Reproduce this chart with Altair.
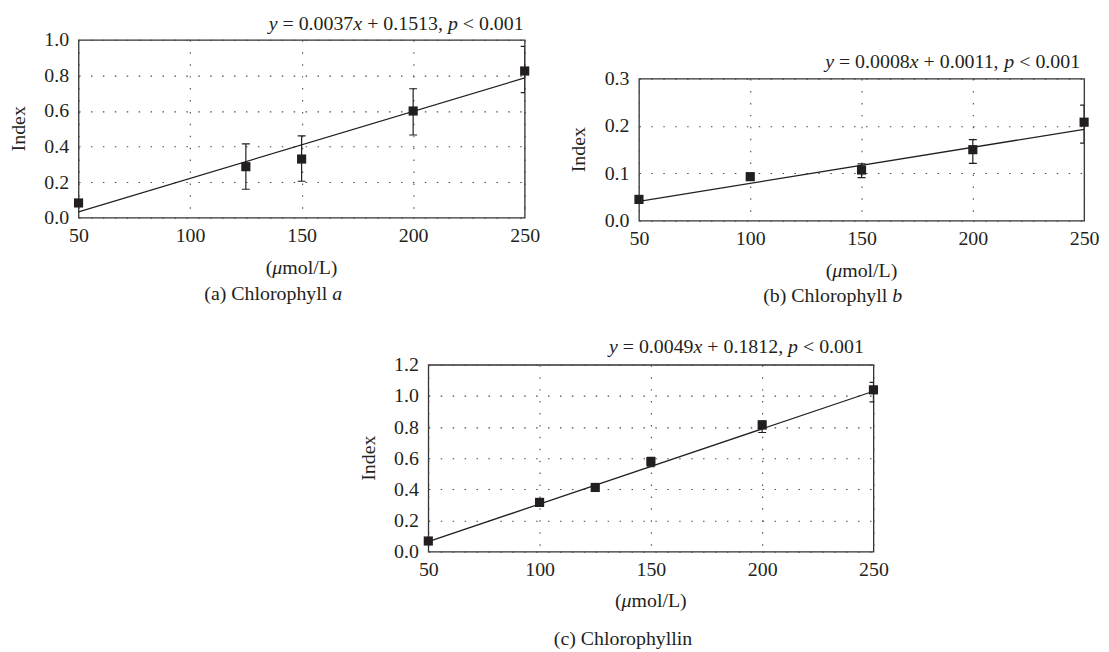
import altair as alt
import pandas as pd

# ---------------- data ----------------
A_X = [50, 125, 150, 200, 250]
A_Y = [0.083, 0.287, 0.330, 0.600, 0.825]
A_LO = [0.078, 0.160, 0.205, 0.465, 0.703]
A_HI = [0.088, 0.415, 0.460, 0.725, 0.963]
A_FIT_X = [50, 250]
A_FIT_Y = [0.033, 0.786]
A_YTICKS = [0.0, 0.2, 0.4, 0.6, 0.8, 1.0]

B_X = [50, 100, 150, 200, 250]
B_Y = [0.045, 0.093, 0.107, 0.150, 0.208]
B_LO = [0.042, 0.090, 0.091, 0.121, 0.164]
B_HI = [0.048, 0.096, 0.120, 0.171, 0.244]
B_FIT_X = [50, 250]
B_FIT_Y = [0.041, 0.193]
B_YTICKS = [0.0, 0.1, 0.2, 0.3]

C_X = [50, 100, 125, 150, 200, 250]
C_Y = [0.068, 0.316, 0.412, 0.578, 0.813, 1.039]
C_LO = [0.060, 0.305, 0.405, 0.545, 0.765, 0.962]
C_HI = [0.075, 0.325, 0.420, 0.605, 0.840, 1.087]
C_FIT_X = [50, 250]
C_FIT_Y = [0.064, 1.030]
C_YTICKS = [0.0, 0.2, 0.4, 0.6, 0.8, 1.0, 1.2]

X_TICKS = [50, 100, 150, 200, 250]

EQ_A = [("y", 1), (" = 0.0037", 0), ("x", 1), (" + 0.1513, ", 0), ("p", 1), (" < 0.001", 0)]
EQ_B = [("y", 1), (" = 0.0008", 0), ("x", 1), (" + 0.0011, ", 0), ("p", 1), (" < 0.001", 0)]
EQ_C = [("y", 1), (" = 0.0049", 0), ("x", 1), (" + 0.1812, ", 0), ("p", 1), (" < 0.001", 0)]
CAP_A = [("(a) Chlorophyll ", 0), ("a", 1)]
CAP_B = [("(b) Chlorophyll ", 0), ("b", 1)]
CAP_C = [("(c) Chlorophyllin", 0)]
UNIT = [("(", 0), ("μ", 1), ("mol/L)", 0)]
Y_TITLE = "Index"

# ---------------- style ----------------
FONT = "Liberation Serif"
FS = 20
INK = "#231f20"

REG = {"0": .5, "1": .5, "2": .5, "3": .5, "4": .5, "5": .5, "6": .5, "7": .5,
       "8": .5, "9": .5, ".": .25, ",": .25, " ": .25, "=": .564, "+": .564,
       "<": .564, "(": .333, ")": .333, "a": .444, "b": .5, "c": .444, "h": .5,
       "i": .278, "l": .278, "m": .778, "n": .5, "o": .5, "p": .5, "r": .333,
       "y": .5, "C": .667, "L": .611, "/": .278, "μ": .5}
ITA = {"a": .5, "b": .5, "p": .5, "x": .444, "y": .444, "μ": .5}


def tw(s, it):
    tab = ITA if it else REG
    return sum(tab.get(ch, REG.get(ch, .5)) for ch in s) * FS


def lay(segs):
    pieces, x = [], 0.0
    for txt, it in segs:
        core = txt.strip(" ")
        if not core:
            x += len(txt) * 0.25 * FS
            continue
        lead = len(txt) - len(txt.lstrip(" "))
        trail = len(txt) - len(txt.rstrip(" "))
        x += lead * 0.25 * FS
        pieces.append((x, core, it))
        x += tw(core, it)
        x += trail * 0.25 * FS
    return pieces, x


ONE = pd.DataFrame({"k": [0]})


def text_layers(segs, anchor_x, y, how):
    pieces, total = lay(segs)
    x0 = anchor_x - total if how == "right" else anchor_x - total / 2
    out = []
    for px, core, it in pieces:
        out.append(
            alt.Chart(ONE).mark_text(
                align="left", baseline="alphabetic", font=FONT, fontSize=FS,
                fontStyle="italic" if it else "normal", color=INK
            ).encode(x=alt.value(x0 + px), y=alt.value(y), text=alt.value(core))
        )
    return out


def bbox_rule(L, T, R, B):
    return alt.Chart(ONE).mark_rule(strokeOpacity=0, strokeWidth=1).encode(
        x=alt.value(L), x2=alt.value(R), y=alt.value(T), y2=alt.value(B))


def spacer(w, h):
    return bbox_rule(0, 0, w, h).properties(
        width=w, height=h, view=alt.ViewBackground(stroke="transparent"))


def panel(xs, ys, lo, hi, fx, fy, yticks, w, h, eq, eq_dx, eq_y, cap, cap_dx, cap_dy,
          unit_dy, bbox):
    df = pd.DataFrame({"x": xs, "y": ys, "lo": lo, "hi": hi})
    fit = pd.DataFrame({"x": fx, "y": fy})
    xsc = alt.Scale(domain=[X_TICKS[0], X_TICKS[-1]], nice=False, zero=False)
    ysc = alt.Scale(domain=[yticks[0], yticks[-1]], nice=False, zero=True)
    xax = alt.Axis(values=X_TICKS, tickCount=len(X_TICKS), format="d", title=None,
                   labelFlush=False, labelOverlap=False, grid=True)
    yax = alt.Axis(values=yticks, tickCount=len(yticks), format=".1f", title=None,
                   labelFlush=False, labelOverlap=False, grid=True)

    line = alt.Chart(fit).mark_line(color=INK, strokeWidth=1.3).encode(
        x=alt.X("x:Q", scale=xsc, axis=xax), y=alt.Y("y:Q", scale=ysc, axis=yax))
    base = alt.Chart(df)
    bars = base.mark_rule(color=INK, strokeWidth=1.2, clip=True).encode(
        x="x:Q", y="lo:Q", y2="hi:Q")
    cap_lo = base.mark_rule(color=INK, strokeWidth=1.2, clip=True, xOffset=-4,
                            x2Offset=4).encode(x="x:Q", x2="x:Q", y="lo:Q")
    cap_hi = base.mark_rule(color=INK, strokeWidth=1.2, clip=True, xOffset=-4,
                            x2Offset=4).encode(x="x:Q", x2="x:Q", y="hi:Q")
    pts = base.mark_point(shape="square", filled=True, size=85, color=INK,
                          opacity=1).encode(x="x:Q", y="y:Q")

    ytitle = alt.Chart(ONE).mark_text(
        font=FONT, fontSize=FS, color=INK, angle=270, align="center", baseline="middle"
    ).encode(x=alt.value(-60), y=alt.value(h / 2), text=alt.value(Y_TITLE))

    layers = [bbox_rule(*bbox), line, bars, cap_lo, cap_hi, pts, ytitle]
    layers += text_layers(eq, w + eq_dx, eq_y, "right")
    layers += text_layers(UNIT, w / 2, h + unit_dy, "center")
    layers += text_layers(cap, w / 2 + cap_dx, h + cap_dy, "center")
    return alt.layer(*layers).properties(width=w, height=h)


pa = panel(A_X, A_Y, A_LO, A_HI, A_FIT_X, A_FIT_Y, A_YTICKS, 449, 179,
           EQ_A, -1, -10, CAP_A, -28.5, 83, 57, (-70, -29, 470, 270))
pb = panel(B_X, B_Y, B_LO, B_HI, B_FIT_X, B_FIT_Y, B_YTICKS, 448, 143,
           EQ_B, -4, -11, CAP_B, -29, 82, 57, (-80, -30, 464, 225))
pc = panel(C_X, C_Y, C_LO, C_HI, C_FIT_X, C_FIT_Y, C_YTICKS, 448, 188,
           EQ_C, -9.6, -12, CAP_C, -28, 94, 56, (-70, -45, 470, 288))

b_wrap = alt.vconcat(spacer(1, 7), pb, spacing=0)
row1 = alt.hconcat(pa, b_wrap, spacing=12)
row2 = alt.hconcat(spacer(280, 1), pc, spacing=0)

chart = alt.vconcat(row1, row2, spacing=10).properties(
    padding=0, background="white"
).configure_view(
    stroke="#333333", strokeWidth=1.3
).configure_axis(
    labelFont=FONT, labelFontSize=FS, labelColor=INK, domain=False, ticks=False,
    tickSize=0, grid=True, gridColor="#4a4a4a", gridDash=[1.5, 10.5], gridWidth=1.1
).configure_axisX(labelPadding=8).configure_axisY(labelPadding=10)

chart.save("out.html", embed_options={"renderer": "svg", "actions": False})
